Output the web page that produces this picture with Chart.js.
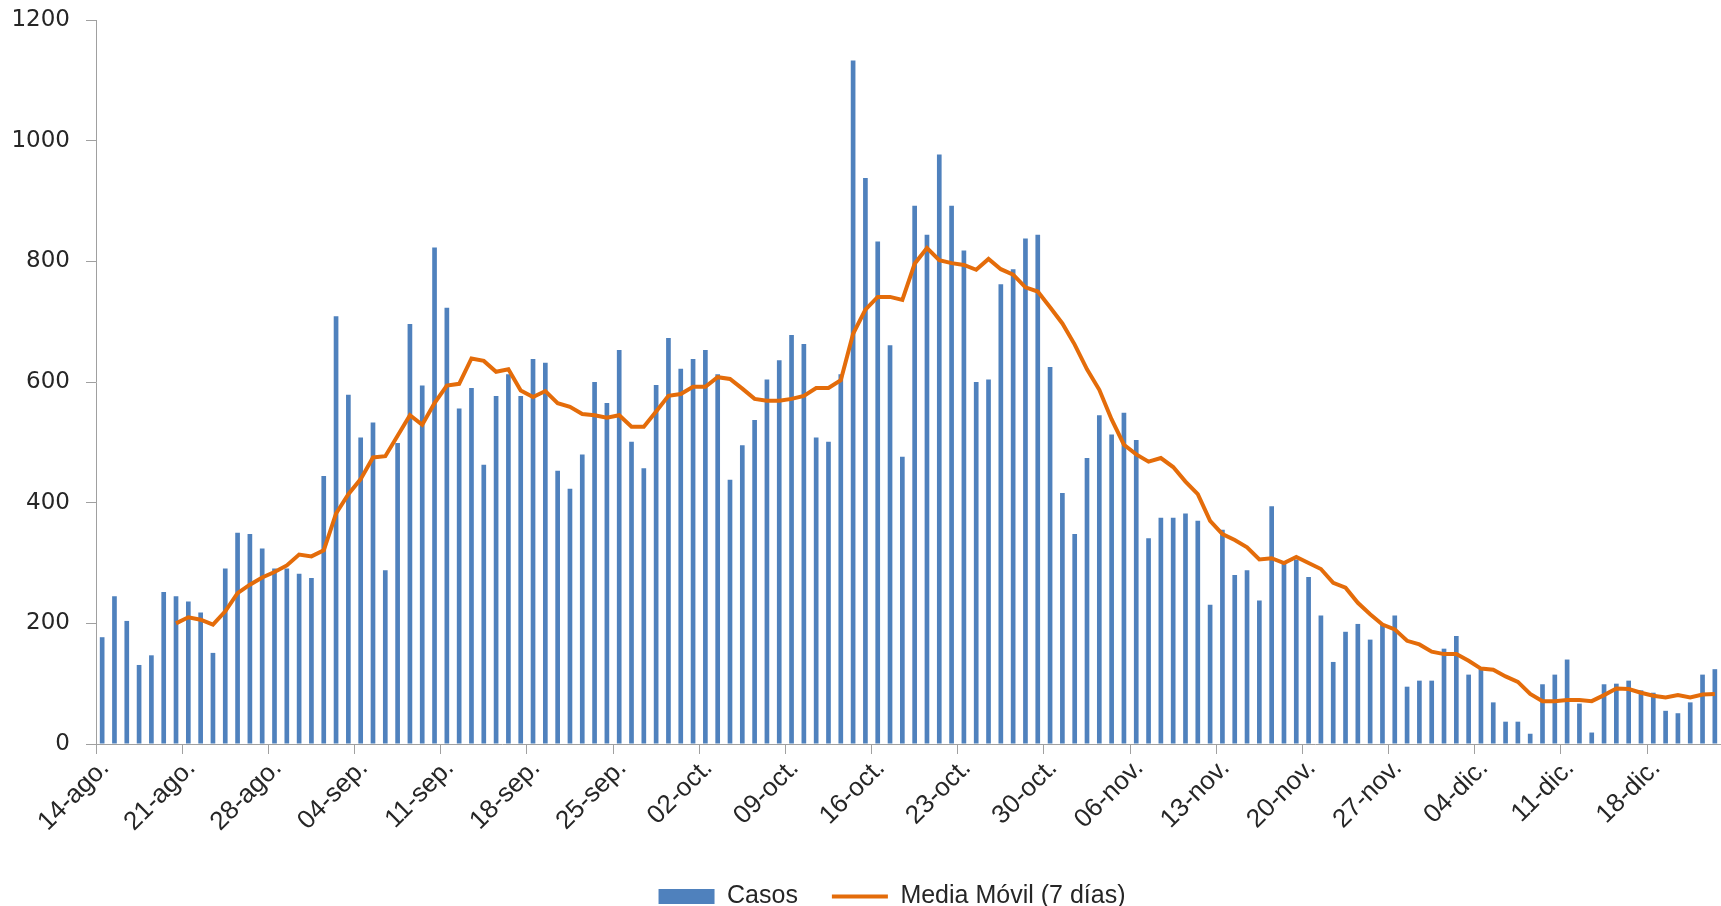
<!DOCTYPE html>
<html>
<head>
<meta charset="utf-8">
<script src="https://cdn.jsdelivr.net/npm/chart.js@4/dist/chart.umd.min.js"></script>
<style>
body { margin:0; background:#fff; overflow:hidden; }
</style>
</head>
<body>
<canvas id="casosChart" width="1721" height="906"></canvas>
<script>
// DATOS

// etiquetas del eje x (una cada 7 días)
const tickLabels = ["14-ago.","21-ago.","28-ago.","04-sep.","11-sep.","18-sep.","25-sep.","02-oct.","09-oct.","16-oct.","23-oct.","30-oct.","06-nov.","13-nov.","20-nov.","27-nov.","04-dic.","11-dic.","18-dic."];

// casos diarios desde el 14-ago
const casos = [
177,245,204,131,147,252,245,
236,218,151,291,350,348,324,
291,291,282,275,444,709,579,
508,533,288,499,696,594,823,
723,556,590,463,577,613,577,
638,632,453,423,480,600,565,
653,501,457,595,673,622,638,
653,613,438,495,537,604,636,
678,663,508,501,613,1133,938,
833,661,476,892,844,977,892,
818,600,604,762,787,838,844,
625,416,348,474,545,513,549,
504,341,375,375,382,370,231,
355,280,288,238,394,300,306,
277,213,136,186,199,173,198,
213,95,105,105,158,179,115,
125,69,37,37,17,99,115,
140,67,19,99,100,105,89,
85,55,51,69,115,124
];

// media móvil de 7 días
const mediaMovil = [
null,null,null,null,null,null,200,
210,206,198,220,250,264,276,
285,296,314,311,321,382,414,
439,475,477,511,545,529,565,
594,597,639,635,617,621,586,
575,585,565,559,547,545,541,
545,526,526,551,577,580,592,
592,608,605,589,572,569,569,
572,577,590,590,603,680,720,
741,741,736,796,822,802,797,
794,786,804,787,778,757,750,
724,697,662,621,587,538,496,
480,468,474,459,435,414,370,
348,338,326,306,308,300,310,
300,290,267,259,234,215,198,
190,171,165,153,149,149,138,
125,123,112,103,83,71,71,
73,73,71,81,92,91,85,
80,77,81,77,82,83
];

// una categoría por día
const dias = casos.map((c, i) => i % 7 === 0 ? tickLabels[i / 7] : "");

const gris = "#a0a0a0";

// marca solo cada 7 días
function marca(c) {
  return c.index % 7 === 0 ? gris : "rgba(0,0,0,0)";
}

// la leyenda va un poco a la derecha y abajo, como en el original
const moverLeyenda = {
  id: "moverLeyenda",
  afterLayout(chart) {
    const l = chart.legend;
    l.left += 26; l.right += 26;
    l.top += 13; l.bottom += 13;
  }
};

const ctx = document.getElementById("casosChart");

new Chart(ctx, {
  type: "bar",
  data: {
    labels: dias,
    datasets: [{
      label: "Casos",
      data: casos,
      backgroundColor: "#4F81BD",
      borderWidth: 0,
      barPercentage: 0.38,
      categoryPercentage: 1,
      pointStyle: "rect",
      order: 2
    }, {
      type: "line",
      label: "Media Móvil (7 días)",
      data: mediaMovil,
      borderColor: "#E46C0A",
      backgroundColor: "#E46C0A",
      borderWidth: 4,
      pointRadius: 0,
      pointStyle: "line",
      tension: 0,
      fill: false,
      order: 1
    }]
  },
  options: {
    responsive: false,
    animation: false,
    layout: { padding: { left: 11, top: 20, right: 0, bottom: 0 } },
    plugins: {
      tooltip: { enabled: false },
      legend: {
        position: "bottom",
        reverse: true,
        labels: {
          usePointStyle: true,
          pointStyleWidth: 56,
          boxHeight: 15,
          padding: 34,
          color: "#262626",
          font: { family: "'Liberation Sans', Arial, sans-serif", size: 25 }
        }
      }
    },
    scales: {
      x: {
        afterFit: s => { s.height = 93; s.paddingRight = 0; s.paddingLeft = 0; },
        grid: {
          offset: true,
          drawOnChartArea: false,
          drawTicks: true,
          tickLength: 10,
          color: marca,
          tickColor: marca
        },
        border: { display: true, color: gris, width: 1 },
        ticks: {
          autoSkip: false,
          maxRotation: 45,
          minRotation: 45,
          padding: -1,
          labelOffset: 3,
          color: "#262626",
          font: { family: "'Liberation Sans', Arial, sans-serif", size: 26 }
        }
      },
      y: {
        min: 0,
        max: 1200,
        afterFit: s => { s.width = 85; s.paddingTop = 0; s.paddingBottom = 0; },
        grid: {
          drawOnChartArea: false,
          drawTicks: true,
          tickLength: 10,
          color: gris
        },
        border: { display: true, color: gris, width: 1 },
        ticks: {
          stepSize: 200,
          padding: 16,
          color: "#262626",
          font: { family: "'DejaVu Sans', Verdana, sans-serif", size: 23 },
          callback: v => String(v)
        }
      }
    }
  },
  plugins: [moverLeyenda]
});
</script>
</body>
</html>
